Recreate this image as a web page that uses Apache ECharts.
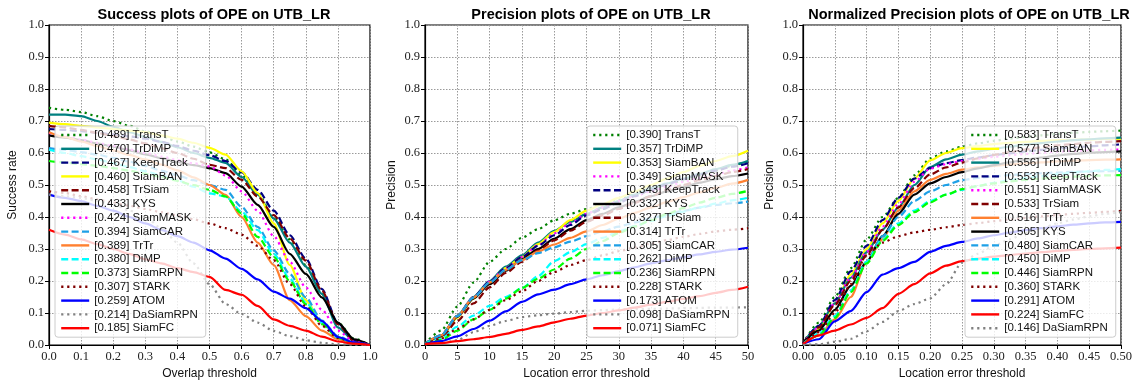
<!DOCTYPE html>
<html><head><meta charset="utf-8">
<script src="https://cdn.jsdelivr.net/npm/echarts@6/dist/echarts.min.js"></script>
<style>html,body{margin:0;padding:0;background:#fff}#c{width:1137px;height:389px}</style>
</head><body><div id="c"></div><script>
// ---------- thresholds (x values) ----------
const sucX = [0,0.05,0.1,0.15,0.2,0.25,0.3,0.35,0.4,0.45,0.5,0.55,0.6,0.65,0.7,0.75,0.8,0.85,0.9,0.95,1.0];
const prcX = [0,2.5,5,7.5,10,12.5,15,17.5,20,22.5,25,27.5,30,32.5,35,37.5,40,42.5,45,47.5,50];
const nrmX = [0,0.025,0.05,0.075,0.1,0.125,0.15,0.175,0.2,0.225,0.25,0.275,0.3,0.325,0.35,0.375,0.4,0.425,0.45,0.475,0.5];

// ---------- panel 1: success ----------
const sucNames = ['TransT','TrDiMP','KeepTrack','SiamBAN','TrSiam','KYS','SiamMASK','SiamCAR','TrTr','DiMP','SiamRPN','STARK','ATOM','DaSiamRPN','SiamFC'];
const sucScores = ['0.489','0.470','0.467','0.460','0.458','0.433','0.424','0.394','0.389','0.380','0.373','0.307','0.259','0.214','0.185'];
const sucTransT = [0.741,0.735,0.728,0.715,0.700,0.685,0.668,0.652,0.636,0.620,0.602,0.580,0.532,0.474,0.400,0.330,0.250,0.160,0.070,0.020,0.000];
const sucTrDiMP = [0.720,0.720,0.715,0.700,0.682,0.665,0.650,0.635,0.618,0.600,0.585,0.569,0.525,0.470,0.395,0.320,0.245,0.160,0.055,0.013,0.000];
const sucKeepTrack = [0.675,0.672,0.668,0.663,0.658,0.652,0.645,0.635,0.622,0.607,0.593,0.575,0.540,0.485,0.420,0.343,0.270,0.175,0.068,0.015,0.000];
const sucSiamBAN = [0.695,0.690,0.685,0.680,0.675,0.670,0.665,0.655,0.645,0.632,0.616,0.595,0.543,0.475,0.380,0.250,0.140,0.070,0.025,0.007,0.000];
const sucTrSiam = [0.685,0.680,0.672,0.663,0.653,0.642,0.630,0.615,0.600,0.582,0.563,0.553,0.516,0.464,0.406,0.333,0.264,0.170,0.065,0.013,0.000];
const sucKYS = [0.655,0.648,0.640,0.630,0.620,0.608,0.596,0.584,0.572,0.562,0.553,0.537,0.495,0.438,0.369,0.285,0.222,0.149,0.070,0.018,0.000];
const sucSiamMASK = [0.663,0.652,0.642,0.632,0.622,0.611,0.600,0.589,0.578,0.568,0.558,0.530,0.480,0.420,0.340,0.260,0.180,0.110,0.045,0.010,0.000];
const sucSiamCAR = [0.615,0.610,0.603,0.595,0.585,0.573,0.560,0.545,0.530,0.515,0.500,0.485,0.432,0.369,0.296,0.222,0.149,0.076,0.028,0.007,0.000];
const sucTrTr = [0.665,0.650,0.636,0.622,0.608,0.594,0.580,0.564,0.546,0.524,0.500,0.469,0.400,0.320,0.250,0.140,0.090,0.045,0.018,0.005,0.000];
const sucDiMP = [0.610,0.600,0.590,0.580,0.568,0.556,0.543,0.530,0.515,0.495,0.474,0.464,0.417,0.359,0.285,0.207,0.133,0.070,0.023,0.005,0.000];
const sucSiamRPN = [0.575,0.570,0.565,0.560,0.553,0.545,0.535,0.525,0.513,0.500,0.485,0.464,0.411,0.338,0.275,0.200,0.128,0.065,0.023,0.005,0.000];
const sucSTARK = [0.480,0.475,0.465,0.455,0.445,0.435,0.425,0.415,0.405,0.393,0.380,0.365,0.345,0.310,0.265,0.190,0.120,0.060,0.022,0.006,0.000];
const sucATOM = [0.470,0.460,0.450,0.435,0.420,0.400,0.380,0.360,0.340,0.320,0.296,0.270,0.238,0.205,0.167,0.145,0.115,0.075,0.025,0.008,0.000];
const sucDaSiamRPN = [0.470,0.465,0.460,0.450,0.440,0.420,0.400,0.365,0.320,0.255,0.190,0.128,0.097,0.070,0.044,0.028,0.015,0.007,0.002,0.001,0.000];
const sucSiamFC = [0.360,0.345,0.330,0.315,0.300,0.285,0.268,0.255,0.240,0.228,0.213,0.172,0.157,0.122,0.080,0.060,0.045,0.026,0.011,0.004,0.000];

// ---------- panel 2: precision ----------
const prcNames = ['TransT','TrDiMP','SiamBAN','SiamMASK','KeepTrack','KYS','TrSiam','TrTr','SiamCAR','DiMP','SiamRPN','STARK','ATOM','DaSiamRPN','SiamFC'];
const prcScores = ['0.390','0.357','0.353','0.349','0.343','0.332','0.327','0.314','0.305','0.262','0.236','0.228','0.173','0.098','0.071'];
const prcTransT = [0.005,0.045,0.120,0.195,0.260,0.300,0.335,0.362,0.390,0.410,0.425,0.440,0.455,0.470,0.485,0.500,0.515,0.530,0.545,0.560,0.575];
const prcTrDiMP = [0.004,0.030,0.092,0.150,0.200,0.245,0.280,0.320,0.357,0.385,0.410,0.430,0.450,0.470,0.490,0.505,0.520,0.535,0.550,0.563,0.575];
const prcSiamBAN = [0.004,0.025,0.085,0.145,0.195,0.240,0.275,0.315,0.353,0.390,0.420,0.440,0.460,0.480,0.500,0.520,0.540,0.560,0.575,0.590,0.607];
const prcSiamMASK = [0.004,0.028,0.088,0.148,0.198,0.240,0.275,0.312,0.349,0.380,0.410,0.430,0.450,0.465,0.480,0.495,0.510,0.522,0.533,0.545,0.555];
const prcKeepTrack = [0.004,0.030,0.090,0.150,0.198,0.240,0.275,0.310,0.343,0.375,0.405,0.425,0.445,0.465,0.485,0.502,0.518,0.532,0.545,0.557,0.568];
const prcKYS = [0.004,0.028,0.088,0.145,0.190,0.232,0.268,0.300,0.332,0.362,0.390,0.410,0.430,0.448,0.465,0.480,0.494,0.507,0.518,0.528,0.536];
const prcTrSiam = [0.004,0.022,0.075,0.130,0.180,0.225,0.260,0.295,0.327,0.357,0.385,0.405,0.425,0.445,0.465,0.485,0.500,0.515,0.528,0.540,0.550];
const prcTrTr = [0.004,0.030,0.090,0.148,0.195,0.235,0.265,0.292,0.314,0.335,0.355,0.375,0.395,0.413,0.430,0.447,0.462,0.477,0.491,0.504,0.516];
const prcSiamCAR = [0.004,0.030,0.090,0.148,0.195,0.235,0.265,0.287,0.305,0.323,0.340,0.355,0.370,0.383,0.396,0.408,0.419,0.429,0.438,0.443,0.448];
const prcDiMP = [0.003,0.020,0.057,0.092,0.122,0.150,0.178,0.215,0.262,0.290,0.315,0.335,0.355,0.372,0.388,0.403,0.417,0.430,0.442,0.452,0.460];
const prcSiamRPN = [0.003,0.015,0.045,0.080,0.110,0.145,0.178,0.207,0.236,0.270,0.300,0.325,0.350,0.370,0.390,0.410,0.428,0.445,0.460,0.472,0.482];
const prcSTARK = [0.003,0.020,0.050,0.080,0.110,0.140,0.168,0.200,0.228,0.250,0.265,0.280,0.293,0.305,0.317,0.328,0.338,0.347,0.355,0.360,0.365];
const prcATOM = [0.003,0.012,0.027,0.050,0.076,0.105,0.135,0.158,0.173,0.190,0.205,0.218,0.231,0.243,0.255,0.265,0.274,0.283,0.291,0.298,0.304];
const prcDaSiamRPN = [0.002,0.005,0.015,0.040,0.060,0.075,0.087,0.093,0.098,0.103,0.107,0.109,0.111,0.112,0.113,0.114,0.115,0.116,0.117,0.117,0.118];
const prcSiamFC = [0.003,0.006,0.012,0.018,0.025,0.035,0.047,0.058,0.071,0.082,0.092,0.100,0.108,0.117,0.126,0.135,0.144,0.153,0.163,0.172,0.182];

// ---------- panel 3: normalized precision ----------
const nrmNames = ['TransT','SiamBAN','TrDiMP','KeepTrack','SiamMASK','TrSiam','TrTr','KYS','SiamCAR','DiMP','SiamRPN','STARK','ATOM','SiamFC','DaSiamRPN'];
const nrmScores = ['0.583','0.577','0.556','0.553','0.551','0.533','0.516','0.505','0.480','0.450','0.446','0.360','0.291','0.224','0.146'];
const nrmTransT = [0.005,0.070,0.150,0.240,0.330,0.400,0.460,0.530,0.583,0.605,0.620,0.630,0.638,0.645,0.650,0.655,0.660,0.663,0.666,0.668,0.670];
const nrmSiamBAN = [0.005,0.050,0.130,0.220,0.300,0.380,0.450,0.520,0.577,0.600,0.615,0.622,0.628,0.632,0.635,0.638,0.640,0.641,0.642,0.644,0.645];
const nrmTrDiMP = [0.005,0.060,0.130,0.210,0.290,0.360,0.430,0.500,0.556,0.580,0.595,0.605,0.613,0.620,0.626,0.631,0.636,0.640,0.643,0.646,0.648];
const nrmKeepTrack = [0.005,0.060,0.140,0.230,0.310,0.390,0.460,0.520,0.553,0.568,0.578,0.586,0.593,0.599,0.605,0.610,0.614,0.618,0.621,0.624,0.627];
const nrmSiamMASK = [0.005,0.055,0.130,0.210,0.290,0.370,0.440,0.510,0.551,0.565,0.575,0.582,0.588,0.593,0.597,0.601,0.604,0.606,0.608,0.610,0.611];
const nrmTrSiam = [0.005,0.055,0.125,0.200,0.280,0.360,0.430,0.490,0.533,0.555,0.570,0.583,0.594,0.603,0.611,0.618,0.624,0.628,0.632,0.635,0.637];
const nrmTrTr = [0.003,0.030,0.080,0.150,0.260,0.330,0.420,0.480,0.516,0.535,0.548,0.555,0.560,0.564,0.568,0.571,0.574,0.576,0.578,0.579,0.580];
const nrmKYS = [0.005,0.045,0.110,0.185,0.260,0.340,0.410,0.470,0.505,0.525,0.540,0.552,0.562,0.571,0.579,0.586,0.592,0.597,0.601,0.603,0.605];
const nrmSiamCAR = [0.003,0.035,0.090,0.170,0.260,0.340,0.400,0.450,0.480,0.500,0.515,0.522,0.527,0.531,0.534,0.537,0.539,0.541,0.542,0.543,0.544];
const nrmDiMP = [0.003,0.035,0.090,0.170,0.260,0.330,0.380,0.420,0.450,0.470,0.485,0.497,0.507,0.515,0.522,0.528,0.534,0.539,0.543,0.547,0.550];
const nrmSiamRPN = [0.003,0.030,0.085,0.165,0.255,0.325,0.375,0.415,0.446,0.470,0.487,0.497,0.505,0.511,0.516,0.520,0.523,0.526,0.528,0.530,0.531];
const nrmSTARK = [0.004,0.040,0.100,0.190,0.280,0.320,0.340,0.352,0.360,0.368,0.375,0.381,0.387,0.392,0.397,0.402,0.406,0.410,0.413,0.416,0.419];
const nrmATOM = [0.004,0.018,0.074,0.106,0.165,0.220,0.240,0.260,0.291,0.310,0.322,0.333,0.343,0.351,0.359,0.365,0.371,0.376,0.380,0.383,0.385];
const nrmSiamFC = [0.003,0.030,0.045,0.064,0.085,0.115,0.160,0.190,0.224,0.248,0.262,0.270,0.276,0.281,0.286,0.290,0.294,0.297,0.300,0.302,0.304];
const nrmDaSiamRPN = [0.000,0.002,0.010,0.019,0.043,0.072,0.106,0.128,0.146,0.190,0.257,0.285,0.310,0.330,0.350,0.365,0.380,0.392,0.402,0.410,0.415];

// ---------- tick labels ----------
const yTicks = ['0.0','0.1','0.2','0.3','0.4','0.5','0.6','0.7','0.8','0.9','1.0'];

// ---------- styles ----------
const DOT = [2.2, 3.8], DASH = [7, 3.4];
const styleOf = {
  TransT:['#008000',DOT], TrDiMP:['#008080','solid'], KeepTrack:['#000080',DASH],
  SiamBAN:['#ffff00','solid'], TrSiam:['#800000',DASH], KYS:['#000000','solid'],
  SiamMASK:['#ff00ff',DOT], SiamCAR:['#1ea0e6',DASH], TrTr:['#ff8030','solid'],
  DiMP:['#00ffff',DASH], SiamRPN:['#00ff00',DASH], STARK:['#800000',DOT],
  ATOM:['#0000ff','solid'], DaSiamRPN:['#808080',DOT], SiamFC:['#ff0000','solid']
};

const sucY = {TransT:sucTransT,TrDiMP:sucTrDiMP,KeepTrack:sucKeepTrack,SiamBAN:sucSiamBAN,TrSiam:sucTrSiam,KYS:sucKYS,SiamMASK:sucSiamMASK,SiamCAR:sucSiamCAR,TrTr:sucTrTr,DiMP:sucDiMP,SiamRPN:sucSiamRPN,STARK:sucSTARK,ATOM:sucATOM,DaSiamRPN:sucDaSiamRPN,SiamFC:sucSiamFC};
const prcY = {TransT:prcTransT,TrDiMP:prcTrDiMP,KeepTrack:prcKeepTrack,SiamBAN:prcSiamBAN,TrSiam:prcTrSiam,KYS:prcKYS,SiamMASK:prcSiamMASK,SiamCAR:prcSiamCAR,TrTr:prcTrTr,DiMP:prcDiMP,SiamRPN:prcSiamRPN,STARK:prcSTARK,ATOM:prcATOM,DaSiamRPN:prcDaSiamRPN,SiamFC:prcSiamFC};
const nrmY = {TransT:nrmTransT,TrDiMP:nrmTrDiMP,KeepTrack:nrmKeepTrack,SiamBAN:nrmSiamBAN,TrSiam:nrmTrSiam,KYS:nrmKYS,SiamMASK:nrmSiamMASK,SiamCAR:nrmSiamCAR,TrTr:nrmTrTr,DiMP:nrmDiMP,SiamRPN:nrmSiamRPN,STARK:nrmSTARK,ATOM:nrmATOM,DaSiamRPN:nrmDaSiamRPN,SiamFC:nrmSiamFC};

const panels = [
  {names:sucNames, scores:sucScores, xs:sucX, ys:sucY},
  {names:prcNames, scores:prcScores, xs:prcX, ys:prcY},
  {names:nrmNames, scores:nrmScores, xs:nrmX, ys:nrmY}
];

const series = [];
const legends = [];
const legendLeft = [55, 587, 965];
panels.forEach((p, pi) => {
  const legendNames = [];
  p.names.forEach((n, i) => {
    const label = '[' + p.scores[i] + '] ' + n;
    legendNames.push(label);
    const st = styleOf[n];
    series.push({
      type:'line', name:label, xAxisIndex:pi, yAxisIndex:pi,
      data: p.xs.map((x, k) => [x, p.ys[n][k]]),
      symbol:'none', showSymbol:false, smooth:0.25, smoothMonotone:'x',
      lineStyle:{color:st[0], width:2.2, type:st[1], cap:'butt'},
      itemStyle:{color:st[0]}, animation:false, silent:true
    });
  });
  legends.push({
    orient:'vertical', left:legendLeft[pi], top:126, data:legendNames,
    itemWidth:28, itemHeight:10, itemGap:1.8, padding:[3,8,3,5],
    backgroundColor:'rgba(255,255,255,0.8)', borderColor:'#cccccc', borderWidth:1, borderRadius:3,
    textStyle:{fontFamily:'Liberation Sans', fontSize:11.5, color:'#111', lineHeight:12},
    itemStyle:{opacity:0, borderWidth:0},
    lineStyle:{width:2.4}, selectedMode:false
  });
});

const serif = 'Liberation Serif';
function xAxisCfg(gi, max, interval, fmt, name) {
  return {
    type:'value', gridIndex:gi, min:0, max:max, interval:interval,
    axisLine:{show:true, onZero:false, lineStyle:{color:'#000', width:1.2}},
    axisTick:{show:true, length:4, lineStyle:{color:'#000'}},
    axisLabel:{fontFamily:serif, fontSize:12.5, color:'#222', margin:5, formatter:fmt},
    splitLine:{show:true, lineStyle:{color:'#9a9a9a', width:1, type:[1.5,1.5]}},
    name:name, nameLocation:'middle', nameGap:21,
    nameTextStyle:{fontFamily:'Liberation Sans', fontSize:12, color:'#111'}
  };
}
function yAxisCfg(gi, name, gap) {
  return {
    type:'value', gridIndex:gi, min:0, max:1, interval:0.1,
    axisLine:{show:true, onZero:false, lineStyle:{color:'#000', width:1.2}},
    axisTick:{show:true, length:4, lineStyle:{color:'#000'}},
    axisLabel:{fontFamily:serif, fontSize:12.5, color:'#222', margin:5,
      formatter:(v) => yTicks[Math.round(v*10)]},
    splitLine:{show:true, lineStyle:{color:'#9a9a9a', width:1, type:[1.5,1.5]}},
    name:name, nameLocation:'middle', nameGap:gap,
    nameTextStyle:{fontFamily:'Liberation Sans', fontSize:12, color:'#111'}
  };
}

const titleStyle = {fontFamily:'Liberation Sans', fontWeight:'bold', fontSize:14.5, color:'#000'};
const option = {
  backgroundColor:'#fff',
  animation:false,
  title:[
    {text:'Success plots of OPE on UTB_LR', left:209, top:2, textAlign:'center', textStyle:titleStyle},
    {text:'Precision plots of OPE on UTB_LR', left:586, top:2, textAlign:'center', textStyle:titleStyle},
    {text:'Normalized Precision plots of OPE on UTB_LR', left:964, top:2, textAlign:'center', textStyle:titleStyle}
  ],
  grid:[
    {left:49, right:767, top:25, bottom:44, show:true, borderColor:'#000', borderWidth:1.2, backgroundColor:'transparent'},
    {left:425, right:389, top:25, bottom:44, show:true, borderColor:'#000', borderWidth:1.2, backgroundColor:'transparent'},
    {left:803, right:16, top:25, bottom:44, show:true, borderColor:'#000', borderWidth:1.2, backgroundColor:'transparent'}
  ],
  xAxis:[
    xAxisCfg(0, 1, 0.1, (v) => v.toFixed(1), 'Overlap threshold'),
    xAxisCfg(1, 50, 5, (v) => String(Math.round(v)), 'Location error threshold'),
    xAxisCfg(2, 0.5, 0.05, (v) => v.toFixed(2), 'Location error threshold')
  ],
  yAxis:[
    yAxisCfg(0, 'Success rate', 30),
    yAxisCfg(1, 'Precision', 27),
    yAxisCfg(2, 'Precision', 27)
  ],
  legend:legends,
  series:series
};
const chart = echarts.init(document.getElementById('c'), null, {renderer:'canvas'});
chart.setOption(option);
</script></body></html>
